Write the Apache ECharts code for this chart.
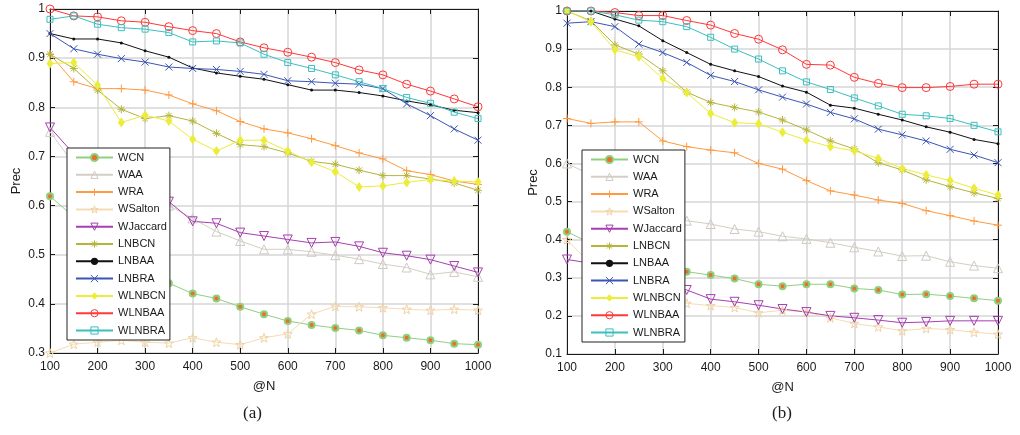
<!DOCTYPE html>
<html>
<head>
<meta charset="utf-8">
<script src="https://cdn.jsdelivr.net/npm/echarts@6/dist/echarts.min.js"></script>
<style>
  html, body { margin: 0; padding: 0; background: #fff; }
  #chart { width: 1020px; height: 435px; }
</style>
</head>
<body>
<div id="chart"></div>
<script>
var nValues = [100, 150, 200, 250, 300, 350, 400, 450, 500, 550, 600, 650, 700, 750, 800, 850, 900, 950, 1000];
var seriesNames = ['WCN', 'WAA', 'WRA', 'WSalton', 'WJaccard', 'LNBCN', 'LNBAA', 'LNBRA', 'WLNBCN', 'WLNBAA', 'WLNBRA'];

// panel (a)
var wcnA = [0.619, 0.577, 0.535, 0.50, 0.47, 0.442, 0.421, 0.411, 0.394, 0.379, 0.365, 0.357, 0.351, 0.346, 0.336, 0.331, 0.326, 0.319, 0.317];
var waaA = [0.750, 0.685, 0.655, 0.63, 0.612, 0.600, 0.574, 0.547, 0.528, 0.511, 0.511, 0.506, 0.499, 0.491, 0.481, 0.474, 0.460, 0.465, 0.455];
var wraA = [0.908, 0.852, 0.838, 0.838, 0.835, 0.825, 0.807, 0.793, 0.771, 0.756, 0.748, 0.736, 0.722, 0.707, 0.695, 0.671, 0.663, 0.650, 0.643];
var wsaltonA = [0.300, 0.318, 0.322, 0.326, 0.322, 0.320, 0.331, 0.322, 0.317, 0.331, 0.339, 0.379, 0.395, 0.394, 0.392, 0.389, 0.387, 0.389, 0.387];
var wjaccardA = [0.759, 0.705, 0.67, 0.645, 0.625, 0.608, 0.568, 0.564, 0.545, 0.538, 0.531, 0.524, 0.526, 0.517, 0.504, 0.498, 0.490, 0.477, 0.464];
var lnbcnA = [0.908, 0.879, 0.835, 0.796, 0.777, 0.783, 0.772, 0.747, 0.724, 0.720, 0.707, 0.690, 0.684, 0.672, 0.661, 0.661, 0.654, 0.646, 0.631];
var lnbaaA = [0.950, 0.939, 0.939, 0.931, 0.915, 0.902, 0.880, 0.870, 0.863, 0.857, 0.846, 0.835, 0.835, 0.830, 0.823, 0.813, 0.805, 0.794, 0.789];
var lnbraA = [0.950, 0.919, 0.908, 0.899, 0.892, 0.882, 0.879, 0.877, 0.873, 0.867, 0.854, 0.852, 0.849, 0.847, 0.838, 0.807, 0.783, 0.756, 0.733];
var wlnbcnA = [0.889, 0.891, 0.845, 0.769, 0.784, 0.772, 0.735, 0.711, 0.733, 0.733, 0.711, 0.688, 0.669, 0.638, 0.640, 0.647, 0.653, 0.650, 0.648];
var wlnbaaA = [1.0, 0.986, 0.984, 0.976, 0.973, 0.964, 0.956, 0.950, 0.933, 0.921, 0.912, 0.902, 0.891, 0.876, 0.866, 0.847, 0.833, 0.817, 0.801];
var wlnbraA = [0.979, 0.986, 0.969, 0.962, 0.959, 0.952, 0.933, 0.935, 0.931, 0.908, 0.891, 0.879, 0.866, 0.852, 0.838, 0.820, 0.808, 0.790, 0.777];

// panel (b)
var wcnB = [0.421, 0.39, 0.36, 0.34, 0.325, 0.316, 0.307, 0.298, 0.283, 0.278, 0.283, 0.283, 0.272, 0.268, 0.256, 0.257, 0.252, 0.246, 0.240];
var waaB = [0.600, 0.57, 0.535, 0.505, 0.475, 0.450, 0.441, 0.428, 0.421, 0.409, 0.402, 0.392, 0.380, 0.369, 0.357, 0.358, 0.342, 0.332, 0.325];
var wraB = [0.718, 0.705, 0.709, 0.709, 0.659, 0.644, 0.635, 0.628, 0.600, 0.585, 0.555, 0.528, 0.517, 0.504, 0.495, 0.476, 0.463, 0.449, 0.438];
var wsaltonB = [0.400, 0.335, 0.29, 0.26, 0.245, 0.233, 0.227, 0.222, 0.208, 0.215, 0.210, 0.195, 0.180, 0.171, 0.161, 0.167, 0.164, 0.157, 0.152];
var wjaccardB = [0.348, 0.338, 0.32, 0.30, 0.285, 0.268, 0.244, 0.237, 0.228, 0.218, 0.210, 0.200, 0.195, 0.189, 0.182, 0.184, 0.187, 0.187, 0.187];
var lnbcnB = [1.0, 0.974, 0.911, 0.887, 0.843, 0.787, 0.760, 0.747, 0.735, 0.714, 0.688, 0.659, 0.638, 0.602, 0.583, 0.557, 0.539, 0.523, 0.508];
var lnbaaB = [1.0, 1.0, 0.979, 0.961, 0.922, 0.891, 0.860, 0.843, 0.828, 0.803, 0.787, 0.753, 0.745, 0.729, 0.714, 0.696, 0.682, 0.663, 0.652];
var lnbraB = [0.968, 0.972, 0.959, 0.913, 0.891, 0.865, 0.831, 0.815, 0.793, 0.774, 0.756, 0.734, 0.717, 0.690, 0.675, 0.659, 0.637, 0.622, 0.602];
var wlnbcnB = [1.0, 0.972, 0.898, 0.880, 0.822, 0.786, 0.731, 0.707, 0.704, 0.682, 0.661, 0.644, 0.633, 0.613, 0.587, 0.570, 0.555, 0.535, 0.517];
var wlnbaaB = [1.0, 1.0, 0.996, 0.988, 0.988, 0.975, 0.963, 0.941, 0.926, 0.898, 0.860, 0.858, 0.826, 0.810, 0.799, 0.799, 0.802, 0.808, 0.808];
var wlnbraB = [1.0, 1.0, 0.990, 0.976, 0.972, 0.959, 0.931, 0.900, 0.874, 0.843, 0.814, 0.794, 0.772, 0.751, 0.729, 0.725, 0.718, 0.700, 0.683];

(function() {
  var font = 'Liberation Sans, Arial, sans-serif';
  var ink = '#1a1a1a';
  var gridColor = '#d6d6d6';
  var clear = 'rgba(0,0,0,0)';

  var plusPath = 'path://M0,5L10,5M5,0L5,10';
  var crossPath = 'path://M0,0L10,10M10,0L0,10';
  var starLines = 'path://M0,5L10,5M5,0L5,10M1.5,1.5L8.5,8.5M8.5,1.5L1.5,8.5';
  var starPath = 'path://M5,0L6.2,3.5L10,3.6L7,5.9L8.1,9.5L5,7.4L1.9,9.5L3,5.9L0,3.6L3.8,3.5Z';

  // marker look per series, in seriesNames order
  var looks = [
    { color: '#8fd07f', symbol: 'circle', size: 6, fill: '#e8702a', border: '#8fd07f', bw: 2 },
    { color: '#d4cec6', symbol: 'triangle', size: 9, fill: clear, border: '#cfc9c0', bw: 1 },
    { color: '#ff9a40', symbol: plusPath, size: 8, fill: clear, border: '#ff9a40', bw: 1 },
    { color: '#f5dcb5', symbol: starPath, size: 9, fill: clear, border: '#f0d2a4', bw: 1 },
    { color: '#a63fb0', symbol: 'triangle', size: 9, rotate: 180, fill: clear, border: '#a63fb0', bw: 1 },
    { color: '#b5b53c', symbol: starLines, size: 8, fill: clear, border: '#b5b53c', bw: 1 },
    { color: '#111111', symbol: 'circle', size: 3, fill: '#111111', border: '#111111', bw: 0 },
    { color: '#3a55b4', symbol: crossPath, size: 7, fill: clear, border: '#3a55b4', bw: 1 },
    { color: '#ecec3a', symbol: 'diamond', size: [7, 10], fill: '#ecec3a', border: '#ecec3a', bw: 0 },
    { color: '#ff3838', symbol: 'circle', size: 8, fill: clear, border: '#ff3838', bw: 1 },
    { color: '#3cbfbf', symbol: 'rect', size: 6, fill: clear, border: '#3cbfbf', bw: 1 }
  ];

  var panelA = [wcnA, waaA, wraA, wsaltonA, wjaccardA, lnbcnA, lnbaaA, lnbraA, wlnbcnA, wlnbaaA, wlnbraA];
  var panelB = [wcnB, waaB, wraB, wsaltonB, wjaccardB, lnbcnB, lnbaaB, lnbraB, wlnbcnB, wlnbaaB, wlnbraB];

  function pairs(vals) {
    return vals.map(function(v, i) { return [nValues[i], v]; });
  }

  function makeSeries(vals, i, axisIdx) {
    var l = looks[i];
    return {
      name: seriesNames[i],
      type: 'line',
      xAxisIndex: axisIdx,
      yAxisIndex: axisIdx,
      data: pairs(vals),
      clip: false,
      symbol: l.symbol,
      symbolSize: l.size,
      symbolRotate: l.rotate || 0,
      showAllSymbol: true,
      lineStyle: { color: l.color, width: 1 },
      itemStyle: { color: l.fill, borderColor: l.border, borderWidth: l.bw },
      emphasis: { disabled: true }
    };
  }

  var series = [];
  panelA.forEach(function(v, i) { series.push(makeSeries(v, i, 0)); });
  panelB.forEach(function(v, i) { series.push(makeSeries(v, i, 1)); });

  function xMain(gi) {
    return {
      type: 'value', gridIndex: gi, min: 100, max: 1000, interval: 100,
      name: '@N', nameLocation: 'middle', nameGap: 27,
      nameTextStyle: { color: ink, fontSize: 13, fontFamily: font },
      axisLine: { lineStyle: { color: ink, width: 1 } },
      axisTick: { inside: true, length: 5, lineStyle: { color: ink } },
      axisLabel: { color: ink, fontSize: 12, fontFamily: font, margin: 8,
        formatter: function(v) { return String(v); } },
      splitLine: { show: true, lineStyle: { color: gridColor, width: 1.5 } }
    };
  }
  function xTop(gi) {
    return {
      type: 'value', gridIndex: gi, min: 100, max: 1000, interval: 100, position: 'top',
      axisLine: { lineStyle: { color: ink, width: 1 } },
      axisTick: { inside: true, length: 5, lineStyle: { color: ink } },
      axisLabel: { show: false }, splitLine: { show: false }
    };
  }
  function yMain(gi, min) {
    return {
      type: 'value', gridIndex: gi, min: min, max: 1, interval: 0.1,
      name: 'Prec', nameLocation: 'middle', nameGap: 27, nameRotate: 90,
      nameTextStyle: { color: ink, fontSize: 13, fontFamily: font },
      axisLine: { show: true, lineStyle: { color: ink, width: 1 } },
      axisTick: { show: true, inside: true, length: 5, lineStyle: { color: ink } },
      axisLabel: { color: ink, fontSize: 12, fontFamily: font, margin: 5 },
      splitLine: { show: true, lineStyle: { color: gridColor, width: 1.5 } }
    };
  }
  function yRight(gi, min) {
    return {
      type: 'value', gridIndex: gi, min: min, max: 1, interval: 0.1, position: 'right',
      axisLine: { show: true, lineStyle: { color: ink, width: 1 } },
      axisTick: { show: true, inside: true, length: 5, lineStyle: { color: ink } },
      axisLabel: { show: false }, splitLine: { show: false }
    };
  }

  var legendItems = seriesNames.map(function(n, i) {
    var l = looks[i];
    return { name: n, itemStyle: { color: l.fill, borderColor: l.border, borderWidth: l.bw || 0 } };
  });

  function legendAt(left, top) {
    return {
      data: legendItems, orient: 'vertical', left: left, top: top,
      itemWidth: 37, itemHeight: 9, itemGap: 6.3,
      padding: [4, 3, 4, 8],
      backgroundColor: '#fff', borderColor: '#222', borderWidth: 1, borderRadius: 0,
      textStyle: { color: ink, fontSize: 11, fontFamily: font },
      selectedMode: false
    };
  }

  var chart = echarts.init(document.getElementById('chart'), null, { renderer: 'canvas' });
  chart.setOption({
    animation: false,
    backgroundColor: '#fff',
    grid: [
      { left: 50, top: 9, width: 428, height: 344 },
      { left: 567, top: 11, width: 431, height: 343 }
    ],
    xAxis: [xMain(0), xMain(1), xTop(0), xTop(1)],
    yAxis: [yMain(0, 0.3), yMain(1, 0.1), yRight(0, 0.3), yRight(1, 0.1)],
    legend: [legendAt(67, 148), legendAt(582, 150)],
    title: [
      { text: '(a)', left: 243, top: 405, padding: 0,
        textStyle: { fontFamily: 'Liberation Serif, Times New Roman, serif', fontSize: 17, fontWeight: 'normal', color: ink } },
      { text: '(b)', left: 772, top: 405, padding: 0,
        textStyle: { fontFamily: 'Liberation Serif, Times New Roman, serif', fontSize: 17, fontWeight: 'normal', color: ink } }
    ],
    series: series
  });
  window.addEventListener('resize', function() { chart.resize(); });
})();
</script>
</body>
</html>
